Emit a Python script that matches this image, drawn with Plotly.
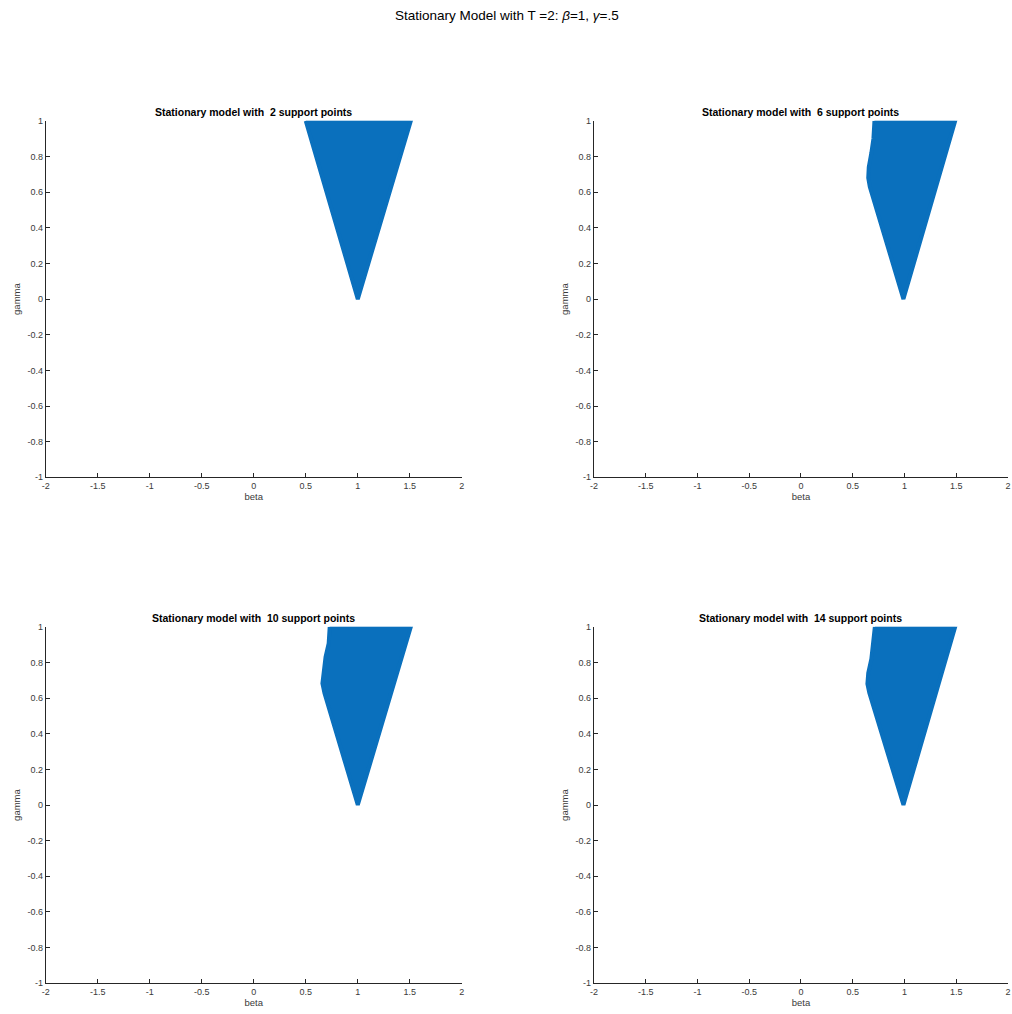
import plotly.graph_objects as go

# ---------------- data ----------------
titles = ["Stationary model with  2 support points",
          "Stationary model with  6 support points",
          "Stationary model with  10 support points",
          "Stationary model with  14 support points"]

# left boundary of the scatter cloud (gamma levels and beta values)
left_gamma_1 = [1.0, 0.0]
left_beta_1 = [0.50, 1.00]
left_gamma_2 = [1.0, 0.90, 0.82, 0.74, 0.68, 0.63, 0.0]
left_beta_2 = [0.71, 0.70, 0.68, 0.655, 0.65, 0.665, 0.99]
left_gamma_3 = [1.0, 0.906, 0.83, 0.757, 0.683, 0.627, 0.0]
left_beta_3 = [0.73, 0.72, 0.69, 0.673, 0.66, 0.68, 1.00]
left_gamma_4 = [1.0, 0.90, 0.82, 0.74, 0.68, 0.63, 0.0]
left_beta_4 = [0.714, 0.70, 0.68, 0.65, 0.642, 0.66, 0.99]

# right boundary (bottom to top)
right_gamma = [0.0, 1.0]
right_beta_1 = [1.00, 1.51]
right_beta_2 = [0.99, 1.49]
right_beta_3 = [1.00, 1.51]
right_beta_4 = [0.99, 1.49]

x_tickvals = [-2, -1.5, -1, -0.5, 0, 0.5, 1, 1.5, 2]
x_ticktext = ["-2", "-1.5", "-1", "-0.5", "0", "0.5", "1", "1.5", "2"]
y_tickvals = [-1, -0.8, -0.6, -0.4, -0.2, 0, 0.2, 0.4, 0.6, 0.8, 1]
y_ticktext = ["-1", "-0.8", "-0.6", "-0.4", "-0.2", "0", "0.2", "0.4", "0.6", "0.8", "1"]

main_title = "Stationary Model with T =2: <i>β</i>=1, <i>γ</i>=.5"

# ---------------- layout geometry ----------------
W, H = 1012, 1014
def px_x(p): return p / W
def px_y(p): return (H - p) / H

domains = [
    ([px_x(42), px_x(461)], [px_y(477), px_y(117)]),
    ([px_x(594), px_x(1011)], [px_y(477), px_y(117)]),
    ([px_x(42), px_x(461)], [px_y(988), px_y(628)]),
    ([px_x(594), px_x(1011)], [px_y(988), px_y(628)]),
]

lefts = [(left_gamma_1, left_beta_1), (left_gamma_2, left_beta_2),
         (left_gamma_3, left_beta_3), (left_gamma_4, left_beta_4)]
rights = [right_beta_1, right_beta_2, right_beta_3, right_beta_4]

BLUE = "#0a70bd"
AX = "#262626"
TICK = "#3a3a3a"
FONT = "Liberation Sans, Arial, Helvetica, sans-serif"

fig = go.Figure()
annotations = []
for i in range(4):
    lg, lb = lefts[i]
    xs = list(lb) + list(rights[i]) + [lb[0]]
    ys = list(lg) + list(right_gamma) + [lg[0]]
    xa = "x" if i == 0 else f"x{i+1}"
    ya = "y" if i == 0 else f"y{i+1}"
    fig.add_trace(go.Scatter(x=xs, y=ys, mode="lines", fill="toself",
                             fillcolor=BLUE, line=dict(color=BLUE, width=4),
                             xaxis=xa, yaxis=ya, showlegend=False,
                             hoverinfo="skip", cliponaxis=False))
    xd, yd = domains[i]
    axis_common = dict(showgrid=False, zeroline=False, showline=True,
                       linecolor=AX, linewidth=1, ticks="inside", ticklen=4,
                       tickcolor=AX, tickfont=dict(family=FONT, size=9, color=TICK),
                       mirror=False, fixedrange=True)
    fig.layout[("xaxis" if i == 0 else f"xaxis{i+1}")] = dict(
        domain=xd, range=[-2, 2], anchor=ya, tickvals=x_tickvals,
        ticktext=x_ticktext,
        title=dict(text="beta", font=dict(family=FONT, size=9.5, color=TICK), standoff=3),
        **axis_common)
    fig.layout[("yaxis" if i == 0 else f"yaxis{i+1}")] = dict(
        domain=yd, range=[-1, 1], anchor=xa, tickvals=y_tickvals,
        ticktext=y_ticktext,
        title=dict(text="gamma", font=dict(family=FONT, size=9.5, color=TICK), standoff=5),
        **axis_common)
    annotations.append(dict(text="<b>" + titles[i] + "</b>", x=(xd[0] + xd[1]) / 2,
                            y=yd[1] + 9 / H, xref="paper", yref="paper",
                            xanchor="center", yanchor="middle", showarrow=False,
                            font=dict(family=FONT, size=10.5, color="#000000")))

annotations.append(dict(text=main_title, x=0.5, y=px_y(11), xref="paper", yref="paper",
                        xanchor="center", yanchor="middle", showarrow=False,
                        font=dict(family=FONT, size=13.5, color="#000000")))

fig.update_layout(width=W, height=H, margin=dict(l=0, r=0, t=0, b=0),
                  paper_bgcolor="white", plot_bgcolor="white",
                  annotations=annotations)

fig.write_html("out.html", config={"displayModeBar": False},
               post_script="document.body.style.margin='0';document.body.style.overflow='hidden';")
